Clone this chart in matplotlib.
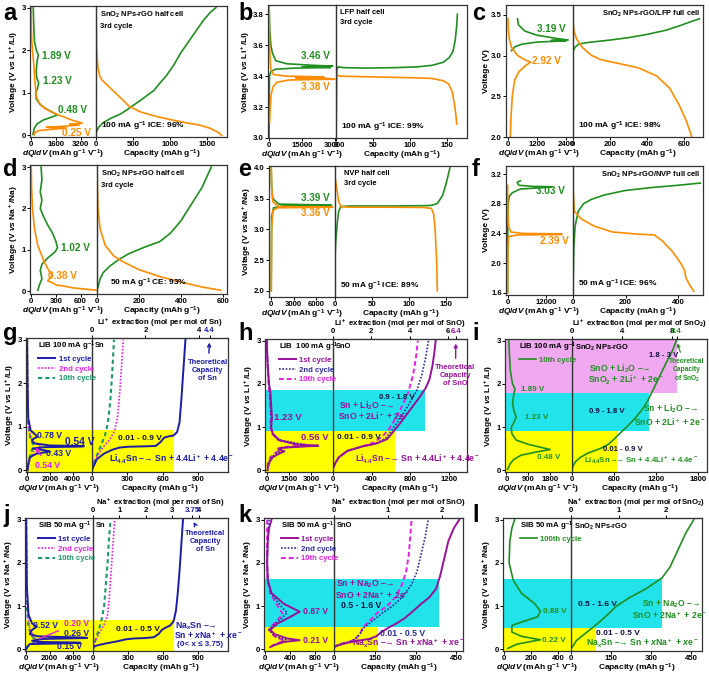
import matplotlib
matplotlib.use("Agg")
import matplotlib.pyplot as plt

plt.rcParams['font.family'] = ['Liberation Sans', 'DejaVu Sans']
plt.rcParams['font.weight'] = 'bold'
plt.rcParams['axes.labelweight'] = 'bold'
plt.rcParams['mathtext.fontset'] = 'custom'
plt.rcParams['mathtext.rm'] = 'Liberation Sans:bold'
plt.rcParams['mathtext.bf'] = 'Liberation Sans:bold'
plt.rcParams['mathtext.it'] = 'Liberation Sans:italic:bold'
plt.rcParams['mathtext.default'] = 'rm'

# ---- data: (x, voltage) pairs ----
# a: SnO2 NPs-rGO half cell (Li)
a_dq_chg = [(150,3.0),(180,2.6),(230,2.2),(350,2.0),(480,1.89),(400,1.75),(340,1.5),(380,1.35),(500,1.23),(420,1.1),(300,1.0),(350,0.85),(600,0.72),(1000,0.62),(1450,0.53),(1700,0.48),(1350,0.43),(800,0.36),(400,0.27),(220,0.17),(160,0.07),(130,0.02)]
a_dq_dis = [(20,3.0),(30,2.5),(60,2.2),(100,2.0),(200,1.6),(250,1.3),(300,1.1),(350,0.9),(550,0.75),(900,0.63),(1500,0.52),(2200,0.42),(2700,0.35),(3100,0.31),(3300,0.28),(2500,0.26),(3100,0.24),(2000,0.21),(1000,0.19),(2300,0.17),(1300,0.14),(500,0.11),(250,0.06),(200,0.01)]
a_cap_chg = [(0,0.02),(10,0.1),(40,0.2),(100,0.3),(200,0.4),(330,0.5),(420,0.6),(500,0.7),(600,0.82),(700,0.95),(780,1.05),(850,1.2),(950,1.4),(1050,1.65),(1150,1.95),(1250,2.2),(1350,2.45),(1450,2.7),(1550,2.9),(1620,3.0)]
a_cap_dis = [(0,3.0),(5,2.5),(10,2.0),(25,1.6),(50,1.4),(80,1.3),(200,1.1),(350,0.85),(450,0.68),(600,0.55),(800,0.45),(1000,0.37),(1200,0.3),(1400,0.24),(1550,0.16),(1650,0.07),(1700,0.0)]

# b: LFP half cell
b_dq_chg = [(0,3.0),(100,3.3),(200,3.4),(800,3.43),(3000,3.445),(12000,3.452),(28000,3.456),(15000,3.46),(29000,3.465),(20000,3.47),(8000,3.48),(3000,3.5),(1500,3.55),(800,3.6),(300,3.7),(100,3.82)]
b_dq_dis = [(0,3.85),(200,3.6),(700,3.45),(2000,3.41),(8000,3.40),(25000,3.395),(12000,3.39),(27000,3.385),(30000,3.38),(9000,3.375),(3500,3.36),(1800,3.33),(900,3.28),(500,3.2),(250,3.1)]
b_cap_chg = [(0,3.0),(0.5,3.2),(1,3.44),(3,3.46),(10,3.455),(40,3.452),(80,3.455),(110,3.46),(130,3.47),(145,3.49),(153,3.52),(158,3.56),(161,3.63),(163,3.72),(164,3.8)]
b_cap_dis = [(0,3.82),(0,3.45),(1,3.41),(5,3.40),(50,3.395),(100,3.39),(130,3.385),(145,3.37),(152,3.35),(157,3.3),(160,3.22),(162,3.15),(163,3.09)]

# c: SnO2 NPs-rGO/LFP full cell
c_dq_chg = [(400,3.45),(430,3.38),(700,3.3),(1200,3.25),(2000,3.21),(2500,3.19),(1800,3.185),(2400,3.18),(1200,3.165),(600,3.14),(300,3.11),(150,3.06)]
c_dq_dis = [(0,3.45),(20,3.3),(60,3.2),(150,3.1),(400,3.0),(750,2.94),(950,2.92),(750,2.88),(450,2.8),(280,2.7),(180,2.5),(120,2.2),(100,2.0)]
c_cap_chg = [(0,3.05),(10,3.1),(30,3.14),(80,3.16),(200,3.19),(300,3.22),(400,3.26),(500,3.31),(580,3.37),(640,3.42),(680,3.45)]
c_cap_dis = [(0,3.45),(5,3.3),(20,3.2),(50,3.1),(100,3.0),(150,2.95),(250,2.9),(350,2.85),(450,2.75),(520,2.6),(570,2.4),(610,2.2),(640,2.0)]

# d: SnO2 NPs-rGO half cell (Na)
d_dq_chg = [(120,3.0),(130,2.7),(110,2.4),(130,2.2),(110,2.0),(150,1.8),(200,1.6),(260,1.4),(300,1.2),(320,1.05),(290,0.95),(200,0.8),(130,0.65),(110,0.5),(130,0.3),(100,0.15),(80,0.02)]
d_dq_dis = [(0,3.0),(5,2.5),(15,2.0),(40,1.5),(80,1.1),(130,0.85),(160,0.7),(200,0.55),(230,0.45),(260,0.38),(230,0.32),(200,0.25),(260,0.2),(300,0.15),(400,0.12),(500,0.08),(700,0.04),(800,0.02)]
d_cap_chg = [(0,0.02),(5,0.1),(15,0.3),(30,0.45),(60,0.6),(100,0.75),(150,0.9),(220,1.05),(300,1.2),(350,1.4),(400,1.7),(450,2.1),(500,2.5),(545,3.0)]
d_cap_dis = [(0,3.0),(2,2.5),(5,2.0),(15,1.5),(40,1.1),(80,0.85),(120,0.72),(200,0.52),(300,0.35),(400,0.22),(500,0.1),(590,0.02)]

# e: NVP half cell
e_dq_chg = [(0,2.0),(50,3.2),(300,3.35),(1500,3.38),(8000,3.39),(8000,3.395),(1000,3.41),(200,3.5),(50,3.7),(0,4.0)]
e_dq_dis = [(0,4.0),(50,3.7),(200,3.45),(1000,3.37),(8200,3.365),(8000,3.36),(800,3.35),(200,3.3),(50,3.0),(0,2.0)]
e_cap_chg = [(0,2.55),(1,2.8),(3,3.1),(5,3.3),(8,3.37),(20,3.38),(80,3.38),(120,3.385),(130,3.39),(138,3.42),(145,3.55),(150,3.75),(155,4.0)]
e_cap_dis = [(0,3.85),(2,3.7),(5,3.45),(8,3.37),(20,3.36),(80,3.36),(120,3.355),(130,3.34),(133,3.25),(135,3.0),(137,2.5),(138,2.0)]

# f: SnO2 NPs-rGO/NVP full cell
f_dq_chg = [(0,1.6),(50,2.4),(200,2.8),(500,2.9),(1500,2.95),(4000,3.0),(12000,3.02),(14000,3.03),(8000,3.035),(3500,3.05),(3000,3.09),(4000,3.11)]
f_dq_dis = [(0,3.05),(100,2.7),(300,2.5),(1000,2.42),(5000,2.4),(17000,2.395),(17000,2.385),(3000,2.38),(300,2.36),(100,2.2),(0,1.6)]
f_cap_chg = [(0,1.6),(3,2.2),(8,2.5),(20,2.7),(40,2.8),(70,2.86),(120,2.92),(200,2.98),(300,3.02),(400,3.05),(485,3.08)]
f_cap_dis = [(0,3.05),(5,2.7),(30,2.6),(80,2.5),(150,2.42),(250,2.39),(310,2.38),(340,2.3),(380,2.15),(410,2.0),(425,1.9),(430,1.8),(445,1.7),(460,1.62)]

# g: Sn, Li
g_dq_1st = [(0,3.0),(30,2.0),(100,1.2),(300,0.92),(800,0.8),(900,0.77),(400,0.7),(600,0.62),(2000,0.57),(5000,0.555),(4800,0.545),(1500,0.53),(500,0.5),(1500,0.46),(2000,0.43),(800,0.38),(250,0.3),(100,0.15),(50,0.0)]
g_dq_2nd = [(0,3.0),(100,1.0),(300,0.8),(500,0.66),(1200,0.55),(600,0.45),(300,0.3),(100,0.12),(50,0.0)]
g_dq_10th = [(0,3.0),(50,1.2),(200,0.85),(300,0.7),(600,0.56),(300,0.4),(150,0.2),(50,0.03)]
g_cap_1st = [(0,0.03),(15,0.1),(40,0.25),(100,0.38),(170,0.47),(230,0.52),(300,0.54),(450,0.55),(540,0.56),(580,0.65),(610,0.75),(650,0.78),(690,0.8),(720,0.88),(740,1.1),(755,1.6),(770,2.2),(790,3.0)]
g_cap_2nd = [(0,0.0),(20,0.2),(60,0.4),(100,0.55),(150,0.7),(190,0.9),(215,1.2),(235,1.8),(250,2.4),(265,3.0)]
g_cap_10th = [(0,0.0),(20,0.2),(50,0.4),(80,0.6),(110,0.8),(135,1.1),(155,1.6),(170,2.2),(186,3.0)]

# h: SnO, Li
h_dq_1st = [(0,3.0),(50,2.5),(150,2.0),(250,1.8),(300,1.5),(350,1.23),(300,1.0),(400,0.85),(800,0.7),(2000,0.6),(3500,0.57),(2500,0.55),(1000,0.52),(800,0.48),(1200,0.44),(800,0.38),(400,0.3),(200,0.2),(100,0.1),(50,0.0)]
h_dq_2nd = [(0,3.0),(60,2.5),(150,2.0),(230,1.7),(280,1.4),(300,1.2),(280,1.0),(400,0.85),(900,0.7),(2500,0.6),(3000,0.57),(1500,0.54),(900,0.5),(1000,0.45),(600,0.38),(300,0.3),(150,0.2),(80,0.1),(50,0.0)]
h_dq_10th = [(0,3.0),(50,2.5),(120,2.0),(200,1.7),(250,1.4),(270,1.2),(250,1.0),(350,0.85),(800,0.7),(2000,0.6),(2700,0.58),(1200,0.54),(700,0.5),(800,0.45),(500,0.38),(250,0.3),(120,0.2),(60,0.1),(30,0.0)]
h_cap_1st = [(0,0.05),(20,0.15),(60,0.3),(150,0.45),(300,0.55),(450,0.62),(560,0.72),(620,0.88),(700,1.1),(800,1.4),(900,1.7),(960,1.9),(1000,2.1),(1030,2.4),(1050,2.7),(1065,3.0)]
h_cap_2nd = [(0,0.05),(20,0.15),(60,0.3),(150,0.45),(300,0.55),(450,0.62),(550,0.75),(600,0.9),(680,1.15),(780,1.5),(870,1.85),(920,2.2),(960,2.6),(990,3.0)]
h_cap_10th = [(0,0.05),(20,0.15),(60,0.3),(150,0.45),(300,0.55),(430,0.65),(520,0.8),(580,0.95),(650,1.2),(720,1.5),(780,1.8),(830,2.2),(860,2.6),(880,3.0)]

# i: SnO2 NPs-rGO, Li, 10th cycle
i_dq = [(100,3.0),(120,2.7),(160,2.3),(250,2.0),(350,1.89),(300,1.75),(250,1.55),(300,1.4),(400,1.23),(300,1.1),(200,1.0),(220,0.85),(400,0.7),(900,0.6),(1500,0.52),(1800,0.48),(1200,0.42),(600,0.35),(300,0.25),(150,0.15),(100,0.08),(50,0.02)]
i_cap = [(0,0.02),(15,0.1),(50,0.2),(120,0.3),(230,0.4),(400,0.5),(520,0.6),(620,0.75),(700,0.88),(780,1.0),(900,1.2),(1000,1.4),(1080,1.6),(1140,1.8),(1230,2.1),(1350,2.5),(1430,2.75),(1494,3.0)]

# j: Sn, Na
j_dq_1st = [(0,3.0),(50,1.5),(200,0.8),(500,0.6),(900,0.52),(500,0.45),(300,0.35),(1000,0.3),(5000,0.27),(5200,0.26),(1500,0.24),(500,0.2),(1000,0.17),(4600,0.155),(4600,0.145),(300,0.12),(50,0.05),(0,0.0)]
j_dq_2nd = [(0,3.0),(100,1.0),(300,0.5),(600,0.3),(1000,0.2),(600,0.15),(300,0.1),(100,0.05),(0,0.0)]
j_dq_10th = [(0,3.0),(50,1.0),(200,0.5),(500,0.3),(800,0.22),(600,0.15),(200,0.08),(0,0.0)]
j_cap_1st = [(0,0.03),(15,0.07),(50,0.1),(120,0.14),(200,0.18),(280,0.23),(350,0.25),(450,0.26),(520,0.28),(560,0.35),(590,0.45),(620,0.5),(660,0.55),(690,0.65),(710,0.9),(725,1.3),(740,1.8),(755,2.4),(770,3.0)]
j_cap_2nd = [(0,0.0),(15,0.15),(40,0.3),(70,0.45),(100,0.6),(125,0.8),(140,1.2),(155,1.8),(170,2.4),(185,3.0)]
j_cap_10th = [(0,0.0),(10,0.1),(25,0.25),(50,0.45),(75,0.7),(95,1.0),(110,1.5),(125,2.0),(135,2.5),(150,3.0)]

# k: SnO, Na
k_dq_1st = [(100,3.0),(60,2.8),(40,2.5),(30,2.0),(40,1.6),(100,1.3),(300,1.05),(550,0.87),(400,0.75),(200,0.6),(80,0.45),(150,0.35),(350,0.25),(550,0.21),(300,0.17),(150,0.1),(80,0.05)]
k_dq_2nd = [(60,3.0),(40,2.5),(30,2.0),(40,1.6),(90,1.3),(250,1.0),(350,0.85),(250,0.7),(120,0.55),(60,0.45),(150,0.3),(330,0.22),(250,0.15),(120,0.08)]
k_dq_10th = [(30,3.0),(30,2.5),(30,2.0),(40,1.6),(80,1.3),(200,1.0),(280,0.82),(200,0.68),(90,0.52),(60,0.45),(150,0.3),(300,0.2),(200,0.14),(100,0.08)]
k_cap_1st = [(0,0.05),(20,0.1),(50,0.15),(90,0.2),(130,0.24),(155,0.3),(175,0.4),(200,0.5),(230,0.6),(260,0.72),(290,0.88),(320,1.05),(350,1.2),(375,1.4),(390,1.7),(405,2.1),(420,2.5),(440,2.8),(460,3.0)]
k_cap_2nd = [(0,0.05),(20,0.12),(60,0.18),(80,0.25),(95,0.35),(110,0.5),(140,0.65),(180,0.85),(215,1.0),(250,1.2),(285,1.5),(305,1.8),(320,2.2),(335,2.6),(346,3.0)]
k_cap_10th = [(0,0.05),(20,0.12),(60,0.18),(80,0.25),(95,0.35),(105,0.5),(130,0.65),(160,0.85),(195,1.0),(225,1.2),(250,1.5),(265,1.8),(275,2.2),(280,2.6),(285,3.0)]

# l: SnO2 NPs-rGO, Na, 100th cycle
l_dq = [(80,3.0),(60,2.8),(45,2.5),(40,2.0),(70,1.6),(130,1.3),(230,1.05),(270,0.88),(250,0.75),(150,0.65),(60,0.55),(60,0.4),(130,0.3),(270,0.22),(200,0.18),(100,0.12),(50,0.05),(30,0.02)]
l_cap = [(0,0.02),(8,0.08),(20,0.2),(40,0.3),(60,0.4),(80,0.5),(110,0.65),(140,0.82),(170,1.0),(220,1.2),(280,1.4),(340,1.65),(370,1.9),(400,2.3),(430,2.7),(459,3.0)]

# shaded reaction windows: (low V, high V, capacity edge)
g_bands = [(-0.04, 0.93, 695)]
h_bands = [(-0.04, 0.92, 640), (0.92, 1.85, 950)]
i_bands = [(-0.04, 0.92, 650), (0.92, 1.78, 1100), (1.78, 3.04, 1494)]
j_bands = [(-0.04, 0.68, 690)]
k_bands = [(-0.04, 0.52, 163), (0.52, 1.63, 385)]
l_bands = [(-0.04, 0.5, 94), (0.5, 1.63, 342)]

GREEN = '#1f8f1f'
ORANGE = '#ff8c00'
BLUE = '#1c1caa'
MAG = '#e61ee6'
TEAL = '#1a9a6a'
PURPLE = '#99109a'
NAVY = '#2b2b9c'
DARK = '#101040'
YEL = '#ffff00'
CYAN = '#22e2ea'
PINK = '#f0a8f0'
BAND_COL = [YEL, CYAN, PINK]

ARROW = '–→'
TICK_FS = 5.6
LAB_FS = 6.0
NOTE_FS = 5.4      # cell / current texts
PEAK_FS = 7.2      # peak voltages in a-f
PEAK2_FS = 6.2     # peak voltages in g-l
EQ_FS = 6.2        # reaction equations
RNG_FS = 5.6       # voltage windows
LEG_FS = 5.6

W, H = 709, 675
fig = plt.figure(figsize=(W / 100, H / 100), dpi=100)


def px(l, t, r, b):
    return [l / W, 1 - b / H, (r - l) / W, (b - t) / H]


def line(ax, pts, **kw):
    xs, vs = zip(*pts)
    ax.plot(xs, vs, **kw)


def panel(box, ylim, yticks, ylabels, ylab, xl, xtl, xr, xtr, letter, lpos):
    l, m, r, t, b = box
    axr = fig.add_axes(px(m, t, r, b))
    axl = fig.add_axes(px(l, t, m, b))
    axl.set_zorder(3)
    axl.set_facecolor('none')
    for ax in (axl, axr):
        ax.set_ylim(*ylim)
        ax.tick_params(labelsize=TICK_FS, length=2, width=0.7, pad=1)
        for s in ax.spines.values():
            s.set_linewidth(0.9)
            s.set_color('#333333')
    axl.set_xlim(*xl)
    axl.set_xticks(xtl)
    axr.set_xlim(*xr)
    axr.set_xticks(xtr)
    axl.set_yticks(yticks, labels=ylabels)
    axr.tick_params(left=False, labelleft=False)
    axr.spines['left'].set_color('#555555')
    axl.set_ylabel(ylab, fontsize=LAB_FS, labelpad=1)
    axl.set_xlabel(r'$\mathit{dQ/dV}$ (mAh g$^{-1}$ V$^{-1}$)', fontsize=LAB_FS, labelpad=0)
    axr.set_xlabel(r'Capacity (mAh g$^{-1}$)', fontsize=LAB_FS, labelpad=0)
    fig.text(lpos[0] / W, 1 - lpos[1] / H, letter, fontsize=17, fontweight='bold', va='top')
    return axl, axr


def bands(axl, axr, bl):
    for (lo, hi, edge), col in zip(bl, BAND_COL):
        axl.axhspan(lo, hi, color=col, lw=0, zorder=0)
        axr.fill_betweenx([lo, hi], 0, edge, color=col, lw=0, zorder=0)


def top_axis(axr, conv, ticks, extra, color, label):
    sec = axr.secondary_xaxis('top', functions=(lambda c: c / conv, lambda m: m * conv))
    tk = list(ticks) + [extra] if extra is not None else list(ticks)
    sec.set_xticks(tk, labels=[str(v) for v in tk])
    sec.tick_params(labelsize=TICK_FS, length=2, width=0.7, pad=1)
    if extra is not None:
        sec.get_xticklabels()[-1].set_color(color)
    sec.set_xlabel(label, fontsize=5.6, labelpad=1.5)
    return sec


def legend(ax, title, entries, x0):
    hs = [plt.Line2D([], [], **kw) for _, kw in entries]
    lg = ax.legend(hs, [e[0] for e in entries], title=title, loc='upper left',
                   bbox_to_anchor=(x0, 1.01), frameon=False, fontsize=LEG_FS,
                   title_fontsize=LEG_FS, handlelength=2.2, handletextpad=0.4,
                   labelspacing=0.3, borderaxespad=0.2, borderpad=0.2)
    lg._legend_box.align = 'left'
    for txt, (_, kw) in zip(lg.get_texts(), entries):
        txt.set_color(kw['color'])
    lg.set_zorder(10)
    return lg


def cell_text(axr, top, bottom, right=False, x0=0.03, xb=0.04):
    if right:
        axr.text(0.98, 0.97, top, transform=axr.transAxes, fontsize=NOTE_FS, va='top', ha='right')
    else:
        axr.text(x0, 0.97, top, transform=axr.transAxes, fontsize=NOTE_FS, va='top', linespacing=1.6)
    axr.text(xb, 0.03, bottom, transform=axr.transAxes, fontsize=NOTE_FS + 0.6, va='bottom')


LW = 1.2
vl = r'Voltage (V $\mathit{vs}$ Li$^+$/Li)'
vn = r'Voltage (V $\mathit{vs}$ Na$^+$/Na)'
y03 = ([0, 1, 2, 3], ['0', '1', '2', '3'])

# ---------- a ----------
axl, axr = panel((30, 96, 227, 6, 137), (-0.04, 3.04), *y03, vl, (-60, 4200), [0, 1600, 3200],
                 (0, 1770), [0, 500, 1000, 1500], 'a', (3, 2))
line(axl, a_dq_chg, color=GREEN, lw=LW)
line(axl, a_dq_dis, color=ORANGE, lw=LW)
line(axr, a_cap_chg, color=GREEN, lw=LW)
line(axr, a_cap_dis, color=ORANGE, lw=LW)
axl.text(700, 1.87, '1.89 V', color=GREEN, fontsize=PEAK_FS, va='center')
axl.text(760, 1.27, '1.23 V', color=GREEN, fontsize=PEAK_FS, va='center')
axl.text(1750, 0.6, '0.48 V', color=GREEN, fontsize=PEAK_FS, va='center')
axl.text(2000, 0.06, '0.25 V', color=ORANGE, fontsize=PEAK_FS, va='center')
cell_text(axr, 'SnO$_2$ NPs-rGO half cell\n3rd cycle', '100 mA g$^{-1}$ ICE: 96%')

# ---------- b ----------
axl, axr = panel((268, 336, 467, 5, 138), (3.0, 3.86), [3.0, 3.2, 3.4, 3.6, 3.8],
                 ['3.0', '3.2', '3.4', '3.6', '3.8'], vl, (-500, 30500), [0, 15000, 30000],
                 (0, 177), [0, 50, 100, 150], 'b', (238, 2))
line(axl, b_dq_chg, color=GREEN, lw=LW)
line(axl, b_dq_dis, color=ORANGE, lw=LW)
line(axr, b_cap_chg, color=GREEN, lw=LW)
line(axr, b_cap_dis, color=ORANGE, lw=LW)
axl.text(14500, 3.53, '3.46 V', color=GREEN, fontsize=PEAK_FS, va='center')
axl.text(14500, 3.33, '3.38 V', color=ORANGE, fontsize=PEAK_FS, va='center')
cell_text(axr, 'LFP half cell\n3rd cycle', '100 mA g$^{-1}$ ICE: 99%')

# ---------- c ----------
axl, axr = panel((506, 573, 703, 5, 137), (2.0, 3.62), [2.0, 2.5, 3.0, 3.5],
                 ['2.0', '2.5', '3.0', '3.5'], 'Voltage (V)', (-80, 2700), [0, 1200, 2400],
                 (0, 700), [0, 200, 400, 600], 'c', (472, 2))
line(axl, c_dq_chg, color=GREEN, lw=LW)
line(axl, c_dq_dis, color=ORANGE, lw=LW)
line(axr, c_cap_chg, color=GREEN, lw=LW)
line(axr, c_cap_dis, color=ORANGE, lw=LW)
axl.text(1200, 3.33, '3.19 V', color=GREEN, fontsize=PEAK_FS, va='center')
axl.text(1000, 2.93, '2.92 V', color=ORANGE, fontsize=PEAK_FS, va='center')
cell_text(axr, 'SnO$_2$ NPs-rGO/LFP full cell', '100 mA g$^{-1}$ ICE: 98%', right=True)

# ---------- d ----------
axl, axr = panel((30, 97, 227, 165, 294), (-0.07, 3.05), *y03, vn, (-15, 800), [0, 300, 600],
                 (0, 620), [0, 200, 400, 600], 'd', (3, 158))
line(axl, d_dq_chg, color=GREEN, lw=LW)
line(axl, d_dq_dis, color=ORANGE, lw=LW)
line(axr, d_cap_chg, color=GREEN, lw=LW)
line(axr, d_cap_dis, color=ORANGE, lw=LW)
axl.text(360, 1.05, '1.02 V', color=GREEN, fontsize=PEAK_FS, va='center')
axl.text(200, 0.36, '0.38 V', color=ORANGE, fontsize=PEAK_FS, va='center')
cell_text(axr, 'SnO$_2$ NPs-rGO half cell\n3rd cycle', '50 mA g$^{-1}$ CE: 93%', xb=0.1)

# ---------- e ----------
axl, axr = panel((269, 335, 467, 166, 297), (1.9, 4.03), [2.0, 2.5, 3.0, 3.5, 4.0],
                 ['2.0', '2.5', '3.0', '3.5', '4.0'], vn, (-300, 8500), [0, 3000, 6000],
                 (0, 178), [0, 50, 100, 150], 'e', (238, 158))
line(axl, e_dq_chg, color=GREEN, lw=LW)
line(axl, e_dq_dis, color=ORANGE, lw=LW)
line(axr, e_cap_chg, color=GREEN, lw=LW)
line(axr, e_cap_dis, color=ORANGE, lw=LW)
axl.text(4000, 3.51, '3.39 V', color=GREEN, fontsize=PEAK_FS, va='center')
axl.text(4000, 3.26, '3.36 V', color=ORANGE, fontsize=PEAK_FS, va='center')
cell_text(axr, 'NVP half cell\n3rd cycle', '50 mA g$^{-1}$ ICE: 89%', x0=0.07)

# ---------- f ----------
axl, axr = panel((506, 573, 703, 166, 295), (1.57, 3.31), [1.6, 2.0, 2.4, 2.8, 3.2],
                 ['1.6', '2.0', '2.4', '2.8', '3.2'], 'Voltage (V)', (-500, 20500), [0, 12000],
                 (0, 495), [0, 200, 400], 'f', (472, 158))
line(axl, f_dq_chg, color=GREEN, lw=LW)
line(axl, f_dq_dis, color=ORANGE, lw=LW)
line(axr, f_cap_chg, color=GREEN, lw=LW)
line(axr, f_cap_dis, color=ORANGE, lw=LW)
axl.text(9000, 2.97, '3.03 V', color=GREEN, fontsize=PEAK_FS, va='center')
axl.text(10000, 2.30, '2.39 V', color=ORANGE, fontsize=PEAK_FS, va='center')
cell_text(axr, 'SnO$_2$ NPs-rGO/NVP full cell', '50 mA g$^{-1}$ ICE: 96%', right=True)

# ---------- g ----------
axl, axr = panel((26, 92, 228, 338, 472), (-0.04, 3.04), *y03, vl, (-100, 5700), [0, 2000, 4000],
                 (0, 1150), [0, 300, 600, 900], 'g', (3, 322))
bands(axl, axr, g_bands)
kw1 = dict(color=BLUE, lw=1.4, ls='-')
kw2 = dict(color=MAG, lw=1.2, ls=(0, (1, 1)))
kw3 = dict(color=TEAL, lw=1.5, ls=(0, (2, 1.5)))
for ax, d1, d2, d3 in ((axl, g_dq_1st, g_dq_2nd, g_dq_10th), (axr, g_cap_1st, g_cap_2nd, g_cap_10th)):
    line(ax, d3, **kw3)
    line(ax, d2, **kw2)
    line(ax, d1, **kw1)
legend(axl, 'LIB 100 mA g$^{-1}$', [('1st cycle', kw1), ('2nd cycle', kw2), ('10th cycle', kw3)], 0.14)
top_axis(axr, 225.9, [0, 2, 4], 4.4, BLUE, 'Li$^+$ extraction (mol per mol of Sn)')
axr.text(0.02, 0.97, 'Sn', transform=axr.transAxes, fontsize=NOTE_FS, va='top')
axl.text(900, 0.8, '0.78 V', color=BLUE, fontsize=PEAK2_FS, va='center')
axl.text(3300, 0.66, '0.54 V', color=BLUE, fontsize=PEAK2_FS + 1.2, va='center')
axl.text(1700, 0.38, '0.43 V', color=BLUE, fontsize=PEAK2_FS, va='center')
axl.annotate('0.54 V', xy=(600, 0.58), xytext=(700, 0.12), color=MAG, fontsize=PEAK2_FS, va='center',
             arrowprops=dict(arrowstyle='->', color=MAG, lw=1))
axr.text(220, 0.74, '0.01 - 0.9 V', color=DARK, fontsize=RNG_FS + 0.4, va='center')
axr.text(140, 0.25, 'Li$_{4.4}$Sn ' + ARROW + ' Sn + 4.4Li$^+$ + 4.4e$^-$', color=BLUE, fontsize=EQ_FS, va='center')
axr.annotate('Theoretical\nCapacity\nof Sn', xy=(994, 3.0), xytext=(980, 2.3), color=BLUE, fontsize=NOTE_FS,
             ha='center', va='center', arrowprops=dict(arrowstyle='->', color=BLUE, lw=1))

# ---------- h ----------
axl, axr = panel((265, 333, 467, 339, 472), (-0.04, 3.04), *y03, vl, (-120, 4500), [0, 1500, 3000],
                 (0, 1390), [0, 400, 800, 1200], 'h', (238, 322))
bands(axl, axr, h_bands)
kw1 = dict(color=PURPLE, lw=1.4, ls='-')
kw2 = dict(color=NAVY, lw=1.2, ls=(0, (1, 1)))
kw3 = dict(color=MAG, lw=1.4, ls=(0, (2.5, 1.5)))
for ax, d1, d2, d3 in ((axl, h_dq_1st, h_dq_2nd, h_dq_10th), (axr, h_cap_1st, h_cap_2nd, h_cap_10th)):
    line(ax, d3, **kw3)
    line(ax, d2, **kw2)
    line(ax, d1, **kw1)
legend(axl, 'LIB  100 mA g$^{-1}$', [('1st cycle', kw1), ('2nd cycle', kw2), ('10th cycle', kw3)], 0.16)
top_axis(axr, 199.0, [0, 2, 4, 6], 6.4, PURPLE, 'Li$^+$ extraction (mol per mol of SnO)')
axr.text(0.02, 0.97, 'SnO', transform=axr.transAxes, fontsize=NOTE_FS, va='top')
axl.text(500, 1.23, '1.23 V', color=PURPLE, fontsize=PEAK2_FS + 0.6, va='center')
axl.text(2300, 0.75, '0.56 V', color=PURPLE, fontsize=PEAK2_FS + 0.6, va='center')
axr.text(660, 1.68, '0.9 - 1.8 V', color=DARK, fontsize=RNG_FS, va='center', ha='center')
axr.text(60, 1.5, 'Sn + Li$_2$O ' + ARROW, color=PURPLE, fontsize=EQ_FS, va='center')
axr.text(50, 1.25, 'SnO + 2Li$^+$ + 2e$^-$', color=PURPLE, fontsize=EQ_FS, va='center')
axr.text(40, 0.76, '0.01 - 0.9 V', color=DARK, fontsize=RNG_FS + 0.4, va='center')
axr.text(230, 0.26, 'Li$_{4.4}$Sn ' + ARROW + ' Sn + 4.4Li$^+$ + 4.4e$^-$', color=PURPLE, fontsize=EQ_FS, va='center')
axr.annotate('Theoretical\nCapacity\nof SnO', xy=(1274, 3.0), xytext=(1270, 2.2), color=PURPLE, fontsize=NOTE_FS,
             ha='center', va='center', arrowprops=dict(arrowstyle='->', color=PURPLE, lw=1))

# ---------- i ----------
axl, axr = panel((505, 572, 707, 339, 472), (-0.04, 3.04), *y03, vl, (-60, 2700), [0, 900, 1800],
                 (0, 1930), [0, 600, 1200, 1800], 'i', (472, 322))
bands(axl, axr, i_bands)
kwi = dict(color=GREEN, lw=1.2, ls='-')
line(axl, i_dq, **kwi)
line(axr, i_cap, **kwi)
lg = legend(axl, 'LIB 100 mA g$^{-1}$', [('10th cycle', kwi)], 0.16)
top_axis(axr, 178.0, [0, 4, 8], 8.4, GREEN, 'Li$^+$ extraction (mol per mol of SnO$_2$)')
axr.text(0.02, 0.97, 'SnO$_2$ NPs-rGO', transform=axr.transAxes, fontsize=NOTE_FS, va='top')
axl.text(600, 1.87, '1.89 V', color=GREEN, fontsize=5.8, va='center')
axl.text(750, 1.22, '1.23 V', color=GREEN, fontsize=5.8, va='center')
axl.text(1250, 0.3, '0.48 V', color=GREEN, fontsize=5.8, va='center')
axr.text(1100, 2.66, '1.8 - 3 V', color=DARK, fontsize=RNG_FS, va='center')
axr.text(250, 2.35, 'SnO + Li$_2$O ' + ARROW, color=GREEN, fontsize=EQ_FS, va='center')
axr.text(230, 2.08, 'SnO$_2$ + 2Li$^+$ + 2e$^-$', color=GREEN, fontsize=EQ_FS, va='center')
axr.text(250, 1.36, '0.9 - 1.8 V', color=DARK, fontsize=RNG_FS, va='center')
axr.text(1010, 1.42, 'Sn + Li$_2$O ' + ARROW, color=GREEN, fontsize=EQ_FS, va='center')
axr.text(880, 1.12, 'SnO + 2Li$^+$ + 2e$^-$', color=GREEN, fontsize=EQ_FS, va='center')
axr.text(450, 0.47, '0.01 - 0.9 V', color=DARK, fontsize=RNG_FS, va='center')
axr.text(170, 0.24, 'Li$_{4.4}$Sn ' + ARROW + ' Sn + 4.4Li$^+$ + 4.4e$^-$', color=GREEN, fontsize=5.7, va='center')
axr.annotate('Theoretical\nCapacity\nof SnO$_2$', xy=(1494, 3.0), xytext=(1640, 2.3), color=GREEN, fontsize=4.8,
             ha='center', va='center', arrowprops=dict(arrowstyle='->', color=GREEN, lw=0.9))

# ---------- j ----------
axl, axr = panel((25, 93, 228, 518, 651), (-0.04, 3.04), *y03, vn, (-100, 5700), [0, 2000, 4000],
                 (0, 1155), [0, 300, 600, 900], 'j', (3, 504))
bands(axl, axr, j_bands)
kw1 = dict(color=BLUE, lw=1.4, ls='-')
kw2 = dict(color=MAG, lw=1.2, ls=(0, (1, 1)))
kw3 = dict(color=TEAL, lw=1.5, ls=(0, (2, 1.5)))
for ax, d1, d2, d3 in ((axl, j_dq_1st, j_dq_2nd, j_dq_10th), (axr, j_cap_1st, j_cap_2nd, j_cap_10th)):
    line(ax, d3, **kw3)
    line(ax, d2, **kw2)
    line(ax, d1, **kw1)
legend(axl, 'SIB 50 mA g$^{-1}$', [('1st cycle', kw1), ('2nd cycle', kw2), ('10th cycle', kw3)], 0.14)
top_axis(axr, 226.0, [0, 1, 2, 3, 4], 3.75, BLUE, 'Na$^+$ extraction (mol per mol of Sn)')
axr.text(0.02, 0.97, 'Sn', transform=axr.transAxes, fontsize=NOTE_FS, va='top')
axl.text(550, 0.55, '0.52 V', color=BLUE, fontsize=PEAK2_FS, va='center')
axl.annotate('0.20 V', xy=(900, 0.22), xytext=(3200, 0.6), color=MAG, fontsize=PEAK2_FS, va='center',
             arrowprops=dict(arrowstyle='-', color=MAG, lw=1))
axl.text(3200, 0.37, '0.26 V', color=BLUE, fontsize=PEAK2_FS, va='center')
axl.text(2600, 0.06, '0.15 V', color=BLUE, fontsize=PEAK2_FS, va='center')
axr.text(200, 0.46, '0.01 - 0.5 V', color=DARK, fontsize=RNG_FS + 0.4, va='center')
axr.text(700, 0.54, 'Na$_x$Sn ' + ARROW, color=BLUE, fontsize=EQ_FS, va='center')
axr.text(690, 0.32, 'Sn + $\\mathit{x}$Na$^+$ + $\\mathit{x}$e$^-$', color=BLUE, fontsize=EQ_FS, va='center')
axr.text(720, 0.1, '(0< x ≤ 3.75)', color=BLUE, fontsize=EQ_FS - 0.4, va='center')
axr.annotate('Theoretical\nCapacity\nof Sn', xy=(847, 3.0), xytext=(960, 2.5), color=BLUE, fontsize=NOTE_FS,
             ha='center', va='center', arrowprops=dict(arrowstyle='->', color=BLUE, lw=1))

# ---------- k ----------
axl, axr = panel((264, 334, 463, 518, 651), (-0.04, 3.04), *y03, vn, (-20, 1100), [0, 400, 800],
                 (0, 474), [0, 150, 300, 450], 'k', (238, 504))
bands(axl, axr, k_bands)
kw1 = dict(color=PURPLE, lw=1.4, ls='-')
kw2 = dict(color=NAVY, lw=1.2, ls=(0, (1, 1)))
kw3 = dict(color=MAG, lw=1.4, ls=(0, (2.5, 1.5)))
for ax, d1, d2, d3 in ((axl, k_dq_1st, k_dq_2nd, k_dq_10th), (axr, k_cap_1st, k_cap_2nd, k_cap_10th)):
    line(ax, d3, **kw3)
    line(ax, d2, **kw2)
    line(ax, d1, **kw1)
legend(axl, 'SIB 50 mA g$^{-1}$', [('1st cycle', kw1), ('2nd cycle', kw2), ('10th cycle', kw3)], 0.2)
top_axis(axr, 199.0, [0, 1, 2], None, None, 'Na$^+$ extraction (mol per mol of SnO)')
axr.text(0.02, 0.97, 'SnO', transform=axr.transAxes, fontsize=NOTE_FS, va='top')
axl.text(600, 0.87, '0.87 V', color=PURPLE, fontsize=PEAK2_FS, va='center')
axl.text(600, 0.2, '0.21 V', color=PURPLE, fontsize=PEAK2_FS, va='center')
axr.text(8, 1.5, 'Sn + Na$_2$O ' + ARROW, color=PURPLE, fontsize=EQ_FS, va='center')
axr.text(5, 1.25, 'SnO + 2Na$^+$ + 2e$^-$', color=PURPLE, fontsize=EQ_FS, va='center')
axr.text(25, 1.02, '0.5 - 1.6 V', color=DARK, fontsize=RNG_FS + 0.6, va='center')
axr.text(168, 0.37, '0.01 - 0.5 V', color=NAVY, fontsize=RNG_FS + 0.6, va='center')
axr.text(65, 0.13, 'Na$_x$Sn ' + ARROW + ' Sn + $\\mathit{x}$Na$^+$ + $\\mathit{x}$e$^-$', color=PURPLE, fontsize=EQ_FS, va='center')

# ---------- l ----------
axl, axr = panel((503, 571, 702, 518, 651), (-0.04, 3.04), *y03, vn, (-5, 495), [0, 200, 400],
                 (0, 490), [0, 150, 300, 450], 'l', (472, 504))
bands(axl, axr, l_bands)
kwl = dict(color=GREEN, lw=1.2, ls='-')
line(axl, l_dq, **kwl)
line(axr, l_cap, **kwl)
legend(axl, 'SIB 50 mA g$^{-1}$', [('100th cycle', kwl)], 0.2)
top_axis(axr, 178.0, [0, 1, 2], None, None, 'Na$^+$ extraction (mol per mol of SnO$_2$)')
axr.text(0.02, 0.97, 'SnO$_2$ NPs-rGO', transform=axr.transAxes, fontsize=NOTE_FS, va='top')
axl.text(290, 0.87, '0.88 V', color=GREEN, fontsize=PEAK2_FS - 0.3, va='center')
axl.text(280, 0.2, '0.22 V', color=GREEN, fontsize=PEAK2_FS - 0.3, va='center')
axr.text(25, 1.03, '0.5 - 1.6 V', color=DARK, fontsize=RNG_FS + 0.4, va='center')
axr.text(265, 1.05, 'Sn + Na$_2$O ' + ARROW, color=GREEN, fontsize=EQ_FS, va='center')
axr.text(228, 0.78, 'SnO + 2Na$^+$ + 2e$^-$', color=GREEN, fontsize=EQ_FS, va='center')
axr.text(95, 0.37, '0.01 - 0.5 V', color=DARK, fontsize=RNG_FS + 0.4, va='center')
axr.text(55, 0.13, 'Na$_x$Sn ' + ARROW + ' Sn + $\\mathit{x}$Na$^+$ + $\\mathit{x}$e$^-$', color=GREEN, fontsize=EQ_FS, va='center')

fig.savefig('out.png', dpi=100)
